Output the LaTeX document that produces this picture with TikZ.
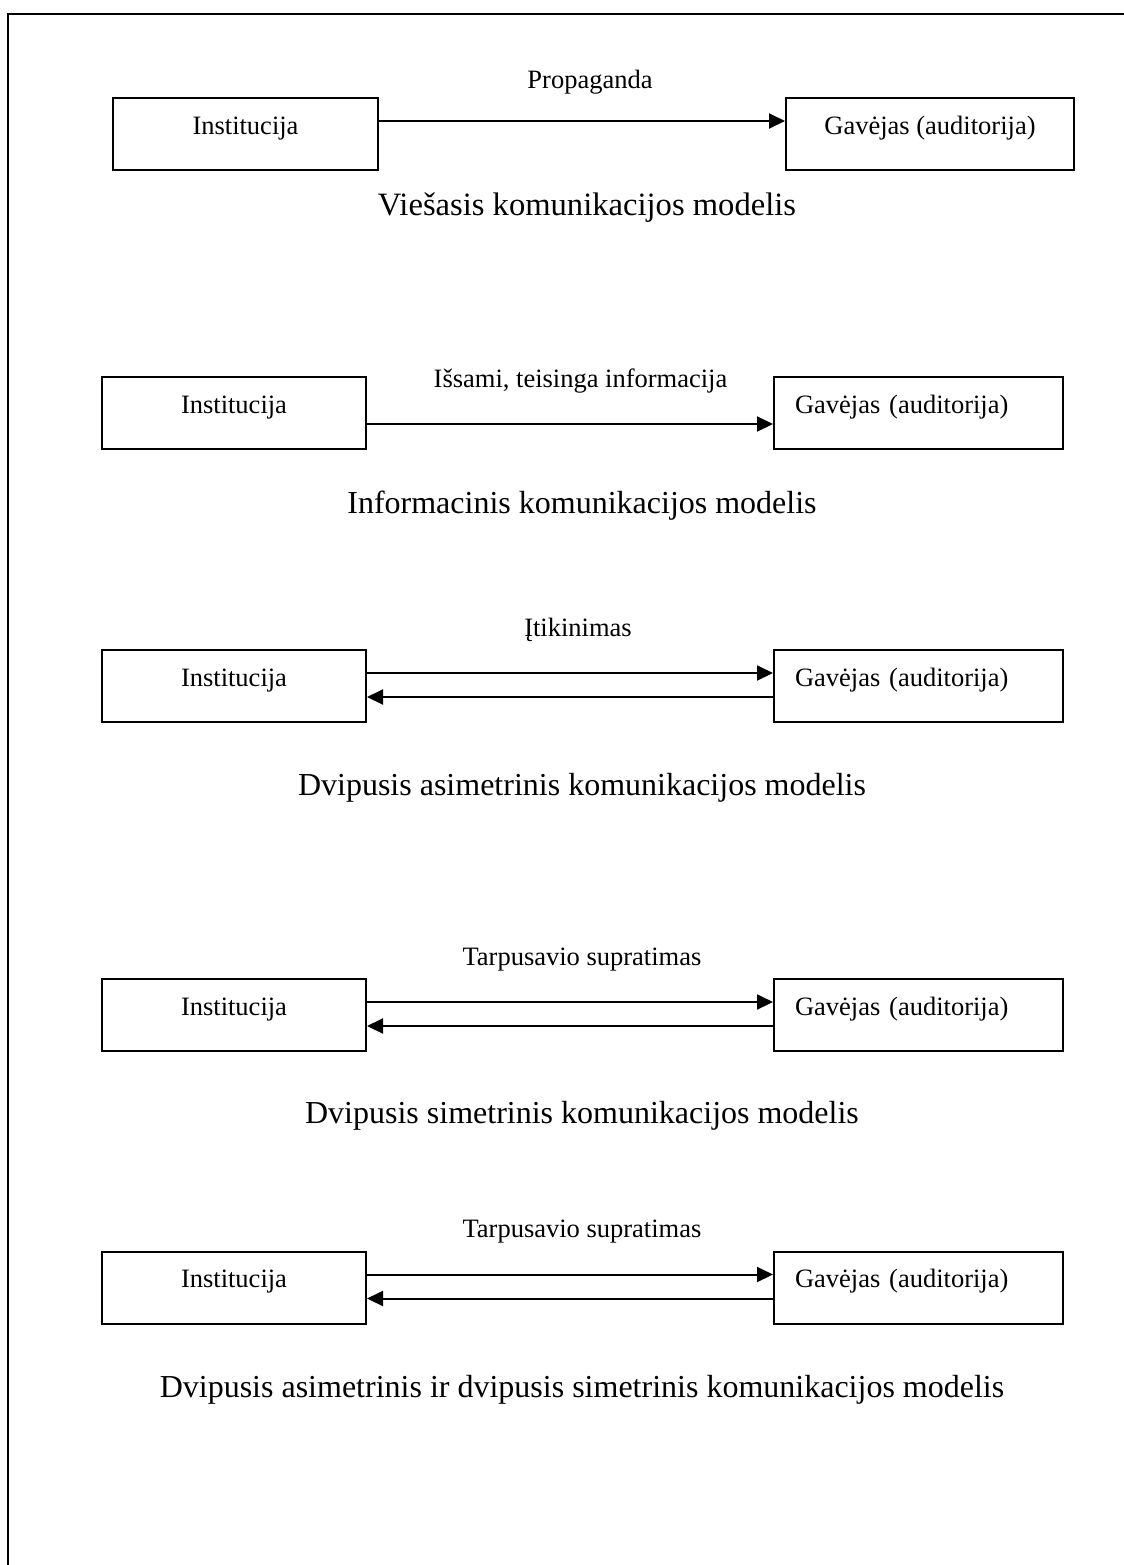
\documentclass[tikz,border=0pt]{standalone}
\usepackage{fontspec}
\setmainfont{Liberation Serif}
\usetikzlibrary{arrows.meta}
\begin{document}
\begin{tikzpicture}[x=0.5pt,y=-0.5pt,
  boxbase/.style={draw,line width=1pt,inner sep=0pt,minimum height=36pt,
    text height=6pt,text depth=6pt,font=\fontsize{13.25}{16}\selectfont},
  lbox/.style={boxbase,minimum width=132pt},
  rbox/.style={boxbase,minimum width=144.5pt,text width=123.5pt,inner xsep=10.5pt,align=left},
  rboxc/.style={boxbase,minimum width=144pt},
  lbl/.style={anchor=base,inner sep=0pt,font=\fontsize{13.25}{16}\selectfont},
  captxt/.style={anchor=base,inner sep=0pt,font=\fontsize{16}{20}\selectfont},
  arr/.style={line width=1pt,-{Triangle[length=8pt,width=7.5pt]}}
]
\useasboundingbox (0,0) rectangle (1124,1565);
% frame
\draw[line width=1.2pt] (8,1570) -- (8,14) -- (1130,14);

% Row 1
\node[lbox,minimum width=132.5pt] (L1) at (245.5,134) {Institucija};
\node[rboxc] (R1) at (930,134) {Gavėjas (auditorija)};
\draw[arr] ([yshift=-12pt]L1.north east) -- ([yshift=-12pt]R1.north west);
\node[lbl] (P1) at (590,88) {Propaganda};
\node[captxt,font=\fontsize{16.3}{20}\selectfont] (C1) at (587,215) {Viešasis komunikacijos modelis};

% Row 2
\node[lbox] (L2) at (234,413) {Institucija};
\node[rbox] (R2) at (918.5,413) {Gavėjas (auditorija)};
\draw[arr] ([yshift=-24pt]L2.north east) -- ([yshift=-24pt]R2.north west);
\node[lbl] (P2) at (580.5,387) {Išsami, teisinga informacija};
\node[captxt] (C2) at (582,513) {Informacinis komunikacijos modelis};

% Row 3
\node[lbox] (L3) at (234,686) {Institucija};
\node[rbox] (R3) at (918.5,686) {Gavėjas (auditorija)};
\draw[arr] ([yshift=-12pt]L3.north east) -- ([yshift=-12pt]R3.north west);
\draw[arr] ([yshift=-24pt]R3.north west) -- ([yshift=-24pt]L3.north east);
\node[lbl] (P3) at (578,636) {Įtikinimas};
\node[captxt] (C3) at (582,795) {Dvipusis asimetrinis komunikacijos modelis};

% Row 4
\node[lbox] (L4) at (234,1015) {Institucija};
\node[rbox] (R4) at (918.5,1015) {Gavėjas (auditorija)};
\draw[arr] ([yshift=-12pt]L4.north east) -- ([yshift=-12pt]R4.north west);
\draw[arr] ([yshift=-24pt]R4.north west) -- ([yshift=-24pt]L4.north east);
\node[lbl] (P4) at (582,965) {Tarpusavio supratimas};
\node[captxt] (C4) at (582,1123) {Dvipusis simetrinis komunikacijos modelis};

% Row 5
\node[lbox] (L5) at (234,1287.5) {Institucija};
\node[rbox] (R5) at (918.5,1287.5) {Gavėjas (auditorija)};
\draw[arr] ([yshift=-12pt]L5.north east) -- ([yshift=-12pt]R5.north west);
\draw[arr] ([yshift=-24pt]R5.north west) -- ([yshift=-24pt]L5.north east);
\node[lbl] (P5) at (582,1237) {Tarpusavio supratimas};
\node[captxt] (C5) at (582,1397) {Dvipusis asimetrinis ir dvipusis simetrinis komunikacijos modelis};
\end{tikzpicture}
\end{document}
